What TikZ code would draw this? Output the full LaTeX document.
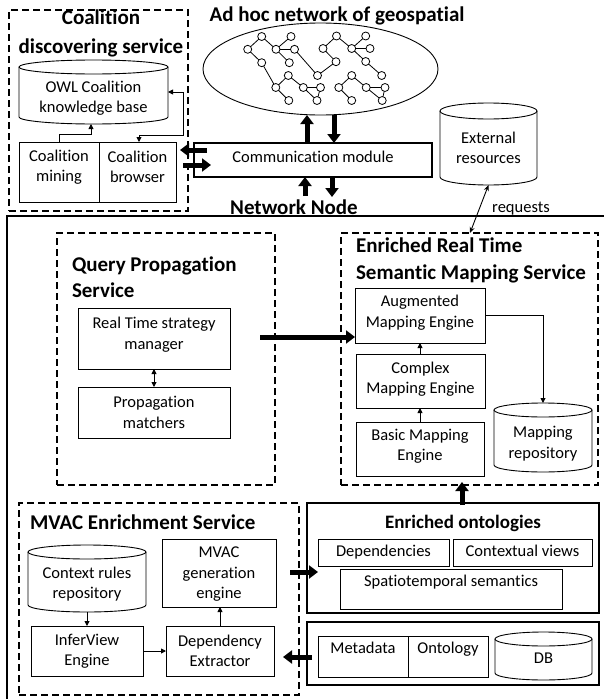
\documentclass[tikz,border=0pt]{standalone}
\usepackage{fontspec}
\setmainfont{Carlito}[Ligatures=NoCommon]
\usetikzlibrary{arrows.meta,shapes.geometric}

% outline of a database drum drawn over an invisible node: node, x radius, y radius
\newcommand\drumedge[3]{%
  \draw[line width=0.9pt]
    ([yshift=-#3pt]#1.north west) -- ([yshift=#3pt]#1.south west)
    arc[start angle=180, end angle=360, x radius=#2pt, y radius=#3pt]
    -- ([yshift=-#3pt]#1.north east);
  \draw[line width=0.9pt] ([yshift=-#3pt]#1.north) ellipse[x radius=#2pt, y radius=#3pt];
}

\begin{document}
\begin{tikzpicture}[x=1pt,y=-1pt,
  every node/.style={inner sep=0pt, outer sep=0pt, align=center,
    font=\fontsize{16.5}{20.5}\selectfont},
  box/.style={draw, line width=0.9pt},
  heavybox/.style={draw, line width=1.6pt},
  dashbox/.style={draw, line width=1.5pt, dash pattern=on 7pt off 4pt},
  drum/.style={},
  oneline/.style={text height=11.5pt, text depth=4pt},
  title/.style={font=\bfseries\fontsize{21}{27}\selectfont},
  thinarrow/.style={line width=0.9pt, -{Triangle[length=5pt,width=5pt]}},
  twoway/.style={line width=0.9pt, {Triangle[length=5pt,width=5pt]}-{Triangle[length=5pt,width=5pt]}},
  bigarrow/.style={line width=5pt, -{Triangle[length=9pt,width=13pt]}},
  gnode/.style={circle, draw, fill=white, minimum size=8pt, line width=0.8pt},
  gedge/.style={line width=0.8pt},
]
\useasboundingbox (0,0) rectangle (604,699);

% ---------------- ad hoc network ----------------
\node[title] (nettitle) at (337,16) {Ad hoc network of geospatial};
\node[draw, ellipse, line width=0.9pt, minimum width=235pt, minimum height=92pt] (net) at (320.5,69) {};

\foreach \n/\x/\y in {g1/261.7/36.5, g2/291/36.5, g3/247.7/49.3, g4/276/49.3,
    g5/294.5/49.3, g6/261.7/62.7, g7/289.3/62.7, g8/317.5/75.5,
    h1/336.5/36, h2/365.7/36, h3/323/48.5, h4/351.7/48.5, h5/370/48.5,
    h6/336/61.7, h7/365.7/61.5, h8/381.7/75.5,
    k1/288.3/75.5, k2/275.8/87.5, k3/303.3/87.5, k4/320.5/87.5, k5/288.8/100.5, k6/317/100.5,
    r1/351.7/75.5, r2/338.8/87.5, r3/366.2/87.5, r4/385/87.5, r5/351.7/100.5, r6/382.2/100.5}
  \node[gnode] (\n) at (\x,\y) {};
\foreach \a/\b in {g3/g1, g1/g4, g4/g2, g4/g5, g4/g7, g3/g6, g6/k2, g5/g8, g8/h6,
    h6/h3, h3/h1, h1/h4, h4/h2, h4/h5, h4/h7, h7/h8,
    k2/k1, k2/k5, k1/k3, k3/k4, k3/k6, k4/k6,
    r1/r2, r1/r3, r2/r5, r3/r4, r3/r6, r4/r6}
  \draw[gedge] (\a) -- (\b);

% ---------------- coalition discovering service ----------------
\node[dashbox, minimum width=179pt, minimum height=201pt] (coal) at (98.5,110.5) {};
\node[title, font=\bfseries\fontsize{21}{29}\selectfont] (coaltitle) at (101,33) {Coalition\\discovering service};
\node[drum, minimum width=149pt, minimum height=64pt,
  label={[yshift=-6pt]center:{OWL Coalition\\knowledge base}}] (owl) at (93.5,92) {};
\drumedge{owl}{74.5}{7}
\node[box, minimum width=80pt, minimum height=60pt,
  label={[yshift=5pt]center:{Coalition\\mining}}] (mining) at (59,172) {};
\node[box, minimum width=77pt, minimum height=60pt,
  label={[yshift=5pt]center:{Coalition\\browser}}] (browser) at (137.5,172) {};
\draw[thinarrow] (mining.north) -- ++(0,-8) -| ([xshift=-2.5pt]owl.south);
\draw[twoway] (owl.east) -- ++(15,0) |- ([shift={(1.5,-7)}]browser.north) -- ([xshift=1.5pt]browser.north);

% ---------------- communication module ----------------
\node[box, line width=1.2pt, minimum width=238pt, minimum height=34pt,
  label={[yshift=3pt]center:{Communication module}}] (comm) at (313,160) {};
\draw[bigarrow] ([xshift=-6pt]comm.north) -- ([xshift=-6pt]comm.north |- 0,115);
\draw[bigarrow] ([xshift=21pt]comm.north |- 0,115) -- ([xshift=21pt]comm.north);
\draw[bigarrow] ([shift={(-8,19)}]comm.south) -- ([xshift=-8pt]comm.south);
\draw[bigarrow] ([xshift=19pt]comm.south) -- ([shift={(19,20)}]comm.south);
\draw[bigarrow] ([shift={(13,-10)}]comm.west) -- ([shift={(4,-22)}]browser.east);
\draw[bigarrow] ([shift={(7,-7)}]browser.east) -- ([shift={(17,5)}]comm.west);

\node[title] (nodetitle) at (294,207) {Network Node};
\draw[line width=1.5pt] (7,699) coordinate (frameb) -- (7,216) coordinate (framec) -- (604,216) coordinate (framer);

% ---------------- external resources ----------------
\node[drum, minimum width=97pt, minimum height=82pt,
  label={[yshift=-4pt]center:{External\\resources}}] (ext) at (488.5,144) {};
\drumedge{ext}{48.5}{8}
\node (reqlabel) at (521,209) {requests};

% ---------------- query propagation service ----------------
\node[dashbox, minimum width=218pt, minimum height=252pt] (query) at (166,359) {};
\node[title, align=left, font=\bfseries\fontsize{21}{26}\selectfont, anchor=west] (querytitle) at (72,277) {Query Propagation\\Service};
\node[box, minimum width=152pt, minimum height=61pt,
  label={[yshift=4pt]center:{Real Time strategy\\manager}}] (rtsm) at (154,338.5) {};
\node[box, minimum width=152pt, minimum height=51pt,
  label={center:{Propagation\\matchers}}] (propm) at (154,412.5) {};
\draw[twoway] (rtsm.south) -- (propm.north);

% ---------------- enriched real time semantic mapping service ----------------
\node[dashbox, minimum width=257pt, minimum height=252pt] (ert) at (469.5,359) {};
\node[title, align=left, anchor=west] (erttitle) at (356,260) {Enriched Real Time\\Semantic Mapping Service};
\node[box, minimum width=130pt, minimum height=55pt,
  label={[yshift=3pt]center:{Augmented\\Mapping Engine}}] (aug) at (420,315.5) {};
\node[box, minimum width=129pt, minimum height=54pt,
  label={[yshift=2pt]center:{Complex\\Mapping Engine}}] (complex) at (420.5,381) {};
\node[box, minimum width=128pt, minimum height=54pt,
  label={[yshift=3pt]center:{Basic Mapping\\Engine}}] (basic) at (420,449) {};
\node[drum, minimum width=98pt, minimum height=69pt,
  label={[yshift=-6pt]center:{Mapping\\repository}}] (maprep) at (543,437.5) {};
\drumedge{maprep}{49}{7}
\draw[thinarrow] (basic.north) -- (basic.north |- complex.south);
\draw[thinarrow] (complex.north -| aug.south) -- (aug.south);
\draw[thinarrow] (aug.east) -| (maprep.north);
\draw[bigarrow] ([shift={(30,-1.5)}]rtsm.east) -- ([yshift=-21.5pt]aug.west);
\draw[twoway, {Stealth[length=6pt,width=5pt]}-{Stealth[length=6pt,width=5pt]}] (ext.south) -- ([xshift=0.5pt]ert.north);

% ---------------- enriched ontologies ----------------
\node[heavybox, minimum width=292pt, minimum height=110pt] (onto) at (453,558) {};
\node[font=\bfseries\fontsize{19}{23}\selectfont] (ontotitle) at (463,523) {Enriched ontologies};
\node[box, minimum width=131pt, minimum height=27pt,
  label={[oneline]center:{Dependencies}}] (deps) at (383.5,552.5) {};
\node[box, minimum width=139pt, minimum height=27pt,
  label={[oneline]center:{Contextual views}}] (ctxv) at (522.5,552.5) {};
\node[box, minimum width=222pt, minimum height=40pt,
  label={[oneline, yshift=6pt]center:{Spatiotemporal semantics}}] (spatio) at (451,589) {};
\draw[bigarrow] ([shift={(9,2)}]onto.north) -- ([shift={(9,-21)}]onto.north);

% ---------------- data sources ----------------
\node[heavybox, minimum width=292pt, minimum height=63pt] (src) at (453,653.5) {};
\node[box, minimum width=90pt, minimum height=41pt,
  label={[oneline, yshift=6.5pt]center:{Metadata}}] (metadata) at (363,656.5) {};
\node[box, minimum width=80pt, minimum height=41pt,
  label={[oneline, yshift=6.5pt]center:{Ontology}}] (ontology) at (448,656.5) {};
\node[drum, minimum width=97pt, minimum height=48pt,
  label={[oneline, yshift=-4pt]center:{DB}}] (db) at (543.5,656) {};
\drumedge{db}{48.5}{7}

% ---------------- MVAC enrichment service ----------------
\node[dashbox, minimum width=280pt, minimum height=192pt] (mvac) at (159,599) {};
\node[title, anchor=west] (mvactitle) at (30,522) {MVAC Enrichment Service};
\node[drum, minimum width=118pt, minimum height=67pt,
  label={[yshift=-5.5pt]center:{Context rules\\repository}}] (ctxrules) at (87,578.5) {};
\drumedge{ctxrules}{59}{7}
\node[box, minimum width=114pt, minimum height=68pt,
  label={[yshift=-1.5pt]center:{MVAC\\generation\\engine}}] (mvacgen) at (219,573) {};
\node[box, minimum width=112pt, minimum height=50pt,
  label={center:{InferView\\Engine}}] (inferview) at (87,651) {};
\node[box, minimum width=108pt, minimum height=50pt,
  label={center:{Dependency\\Extractor}}] (depext) at (220,651) {};
\draw[thinarrow] (ctxrules.south) -- (inferview.north);
\draw[thinarrow] (inferview.east) -- (depext.west);
\draw[thinarrow] (depext.north) -- (depext.north |- mvacgen.south);

\draw[bigarrow] ([shift={(-17,14)}]onto.west) -- ([shift={(11,14)}]onto.west);
\draw[bigarrow] ([shift={(5,3.5)}]src.west) -- ([shift={(9,6)}]depext.east);
\end{tikzpicture}
\end{document}
